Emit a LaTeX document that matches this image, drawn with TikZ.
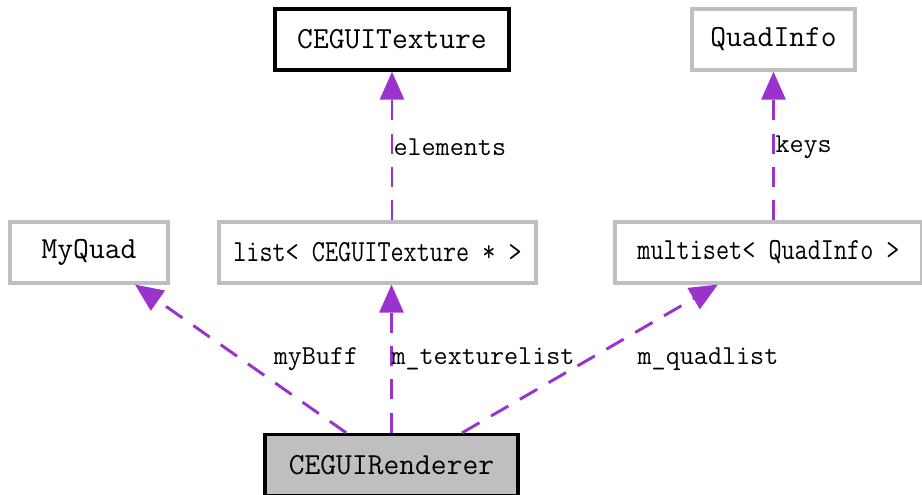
\documentclass[tikz,border=0pt]{standalone}
\usepackage{fontspec}
\usetikzlibrary{arrows.meta}

\definecolor{edgepurple}{HTML}{9A32CD}
\definecolor{boxgray}{HTML}{BFBFBF}

\newcommand{\squeezed}[1]{\scalebox{0.83}[1]{#1}}

\tikzset{every picture/.style={line width=0.75pt}}
\tikzset{
  cls/.style={draw=boxgray, line width=2.4pt, fill=white, inner sep=0pt,
    minimum height=45.75pt, font=\ttfamily\fontsize{23}{27}\selectfont},
  doc/.style={cls, draw=black, line width=2.6pt},
  dep/.style={draw=edgepurple, line width=2.2pt, dash pattern=on 15pt off 10pt,
    -{Triangle[length=21pt,width=18pt,fill=edgepurple]}},
  lbl/.style={inner sep=0pt, font=\ttfamily\fontsize{20.5}{24}\selectfont},
}

\begin{document}
\begin{tikzpicture}[x=0.75pt,y=0.75pt,yscale=-1,xscale=1]
\useasboundingbox (0,0) rectangle (922,495);

% Class Nodes
\node [doc, minimum width=175.5pt] (tex) at (392,39.5) {CEGUITexture};
\node [cls, minimum width=122.25pt] (qinfo) at (773.5,39.5) {QuadInfo};
\node [cls, minimum width=118.5pt] (myquad) at (89,252.5) {MyQuad};
\node [cls, minimum width=237.75pt] (tlist) at (377.5,252.5) {\squeezed{list< CEGUITexture * >}};
\node [cls, minimum width=230.25pt] (qset) at (768.5,252.5) {\squeezed{multiset< QuadInfo >}};
\node [doc, fill=boxgray, minimum width=189.75pt] (rend) at (391.5,465) {CEGUIRenderer};

% Connectors
\draw [dep] ([xshift=-34pt]rend.north) -- ([xshift=34.5pt]myquad.south);
\draw [dep] (rend.north) -- (rend.north |- tlist.south);
\draw [dep] ([xshift=53pt]rend.north) -- ([xshift=-38pt]qset.south);
\draw [dep] (tex.south |- tlist.north) -- (tex.south);
\draw [dep] (qinfo.south |- qset.north) -- (qinfo.south);

% Text Nodes
\node [lbl] (lbuff) at (316,359) {myBuff};
\node [lbl, anchor=west] (ltex) at (391,359) {m\_texturelist};
\node [lbl] (lquad) at (708,359) {m\_quadlist};
\node [lbl, anchor=west] (lelem) at (393,147) {elements};
\node [lbl, anchor=west] (lkeys) at (775,147) {keys};
\end{tikzpicture}
\end{document}
